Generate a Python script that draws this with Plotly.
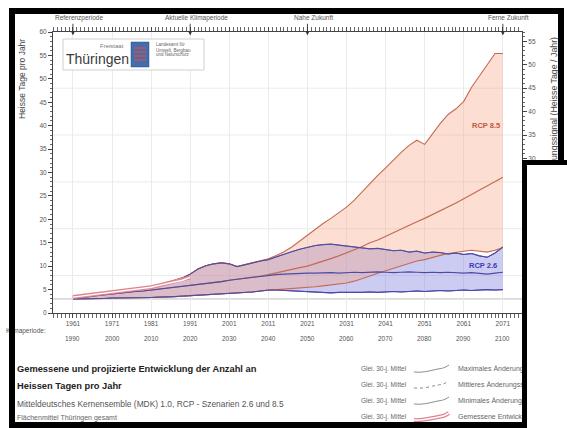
import plotly.graph_objects as go

# ---------------- data ----------------
years = list(range(1961, 2072, 2))          # start year of the 30-year period
obs_years = list(range(1961, 1992, 2))

rcp85_max = [3.4, 3.6, 3.8, 4.0, 4.3, 4.5, 4.7, 4.8, 5.1, 5.3,
             5.6, 5.9, 6.4, 6.9, 7.5, 8.3, 9.4, 10.1, 10.5, 10.7,
             10.5, 9.9, 10.3, 10.8, 11.1, 11.6, 12.3, 13.1, 14.1, 15.4,
             16.7, 17.9, 19.1, 20.2, 21.4, 22.6, 24.1, 25.9, 27.8, 29.4,
             31.0, 32.7, 34.3, 35.8, 36.9, 36.0, 38.3, 40.5, 42.4, 43.6,
             45.2, 48.2, 50.6, 53.0, 55.4, 55.4]
rcp85_mean = [3.2, 3.3, 3.5, 3.7, 3.9, 4.1, 4.3, 4.4, 4.6, 4.7,
              4.9, 5.1, 5.2, 5.4, 5.6, 5.8, 6.0, 6.2, 6.5, 6.7,
              7.0, 7.2, 7.4, 7.7, 7.9, 8.2, 8.6, 9.0, 9.3, 9.7,
              10.0, 10.5, 11.0, 11.6, 12.2, 12.8, 13.5, 14.2, 15.0, 15.6,
              16.4, 17.1, 17.9, 18.7, 19.5, 20.2, 21.0, 21.8, 22.6, 23.5,
              24.4, 25.3, 26.2, 27.1, 28.1, 29.0]
rcp85_min = [3.0, 3.0, 3.1, 3.1, 3.1, 3.2, 3.2, 3.2, 3.3, 3.3,
             3.3, 3.4, 3.4, 3.5, 3.6, 3.7, 3.7, 3.8, 3.9, 4.0,
             4.1, 4.2, 4.4, 4.5, 4.7, 4.9, 5.0, 5.1, 5.2, 5.3,
             5.4, 5.6, 5.8, 6.0, 6.2, 6.4, 6.8, 7.3, 7.9, 8.5,
             9.0, 9.6, 10.1, 10.6, 11.1, 11.4, 11.9, 12.3, 12.7, 13.0,
             13.2, 13.4, 13.2, 13.0, 13.4, 14.0]

rcp26_max = [3.4, 3.6, 3.8, 4.0, 4.3, 4.5, 4.7, 4.8, 5.1, 5.3,
             5.6, 5.9, 6.4, 6.9, 7.5, 8.3, 9.4, 10.1, 10.5, 10.7,
             10.5, 9.9, 10.3, 10.8, 11.1, 11.4, 12.0, 12.6, 13.1, 13.6,
             14.0, 14.4, 14.6, 14.7, 14.5, 14.3, 14.1, 13.9, 13.7, 13.8,
             13.5, 13.3, 13.4, 13.0, 13.2, 12.8, 13.0, 12.9, 12.6, 12.8,
             12.5, 12.7, 12.2, 11.9, 12.8, 14.1]
rcp26_mean = [3.2, 3.3, 3.5, 3.7, 3.9, 4.1, 4.3, 4.4, 4.6, 4.7,
              4.9, 5.1, 5.2, 5.4, 5.6, 5.8, 6.0, 6.2, 6.5, 6.7,
              7.0, 7.2, 7.4, 7.7, 7.9, 8.1, 8.2, 8.3, 8.4, 8.4,
              8.5, 8.5, 8.6, 8.6, 8.5, 8.6, 8.7, 8.6, 8.7, 8.8,
              8.7, 8.6, 8.7, 8.8, 8.7, 8.6, 8.7, 8.6, 8.7, 8.6,
              8.5, 8.6, 8.4, 8.3, 8.5, 8.7]
rcp26_min = [3.0, 3.0, 3.1, 3.1, 3.1, 3.2, 3.2, 3.2, 3.3, 3.3,
             3.3, 3.4, 3.4, 3.5, 3.6, 3.7, 3.7, 3.8, 3.9, 4.0,
             4.1, 4.2, 4.4, 4.5, 4.7, 4.9, 4.9, 4.8, 4.7, 4.6,
             4.5, 4.5, 4.4, 4.3, 4.4, 4.4, 4.3, 4.4, 4.5, 4.4,
             4.5, 4.6, 4.5, 4.6, 4.7, 4.6, 4.7, 4.8, 4.7, 4.8,
             4.9, 4.8, 4.9, 5.0, 4.9, 5.0]

observed = [3.4, 3.6, 3.8, 4.0, 4.3, 4.5, 4.7, 4.9, 5.1, 5.3,
            5.5, 5.9, 6.3, 6.7, 7.0, 7.6]

tick_start = [1961, 1971, 1981, 1991, 2001, 2011, 2021, 2031, 2041, 2051, 2061, 2071]
tick_end = [1990, 2000, 2010, 2020, 2030, 2040, 2050, 2060, 2070, 2080, 2090, 2100]

period_years = [1961, 1991, 2021, 2071]
period_names = ["Referenzperiode", "Aktuelle Klimaperiode", "Nahe Zukunft", "Ferne Zukunft"]

legend_prefix = ["Glei. 30-j. Mittel"] * 4
legend_names = ["Maximales Änderungssignal", "Mittleres Änderungssignal",
                "Minimales Änderungssignal", "Gemessene Entwicklung"]

title_lines = ["Gemessene und projizierte Entwicklung der Anzahl an",
               "Heissen Tagen pro Jahr"]
subtitle = "Mitteldeutsches Kernensemble (MDK) 1.0, RCP - Szenarien 2.6 und 8.5"
footnote = "Flächenmittel Thüringen gesamt"

# ---------------- styling ----------------
FONT = "Liberation Sans, Arial, sans-serif"
C85_LINE = "#c46a52"
C85_FILL = "rgba(245,160,130,0.35)"
C26_LINE = "#4b4ba6"
C26_FILL = "rgba(120,120,220,0.38)"
OBS_COL = "#dd8490"

# plot-area pixel box (used only to place decorations)
L, R, T, B = 53, 522, 32, 313
W, H = R - L, B - T


def PX(x):
    return (x - L) / W


def PY(y):
    return (B - y) / H


fig = go.Figure()

# RCP 2.6 band
fig.add_trace(go.Scatter(x=years, y=rcp26_min, mode="lines",
                         line=dict(color=C26_LINE, width=1.1), hoverinfo="skip"))
fig.add_trace(go.Scatter(x=years, y=rcp26_max, mode="lines", fill="tonexty",
                         fillcolor=C26_FILL, line=dict(color=C26_LINE, width=1.1)))
# RCP 8.5 band
fig.add_trace(go.Scatter(x=years, y=rcp85_min, mode="lines",
                         line=dict(color=C85_LINE, width=1.1)))
fig.add_trace(go.Scatter(x=years, y=rcp85_max, mode="lines", fill="tonexty",
                         fillcolor=C85_FILL, line=dict(color=C85_LINE, width=1.1)))
# means
fig.add_trace(go.Scatter(x=years, y=rcp85_mean, mode="lines",
                         line=dict(color=C85_LINE, width=1.2)))
fig.add_trace(go.Scatter(x=years, y=rcp26_mean, mode="lines",
                         line=dict(color=C26_LINE, width=1.2)))
# re-draw blue borders on top of the orange fill (early shared part looks purple)
fig.add_trace(go.Scatter(x=years, y=rcp26_max, mode="lines",
                         line=dict(color=C26_LINE, width=1.0)))
fig.add_trace(go.Scatter(x=years, y=rcp26_min, mode="lines",
                         line=dict(color=C26_LINE, width=1.0)))
# observed
fig.add_trace(go.Scatter(x=obs_years, y=observed, mode="lines",
                         line=dict(color=OBS_COL, width=4)))
fig.add_trace(go.Scatter(x=obs_years, y=observed, mode="lines",
                         line=dict(color="white", width=1.4)))
# dummy trace for right axis
fig.add_trace(go.Scatter(x=[None], y=[None], yaxis="y2", mode="lines"))

shapes = []
# horizontal grid lines (left-axis values)
for gv in [8, 18, 28, 38, 48]:
    shapes.append(dict(type="line", xref="paper", x0=0, x1=1, yref="y", y0=gv, y1=gv,
                       line=dict(color="#ebebeb", width=1), layer="below"))
shapes.append(dict(type="line", xref="paper", x0=0, x1=1, yref="y2", y0=0, y1=0,
                   line=dict(color="#bdbdbd", width=1), layer="below"))

# logo box
shapes.append(dict(type="rect", xref="paper", yref="paper", x0=PX(63), x1=PX(204),
                   y0=PY(70), y1=PY(39), fillcolor="white",
                   line=dict(color="#d0d0d0", width=1), layer="above"))
shapes.append(dict(type="rect", xref="paper", yref="paper", x0=PX(131), x1=PX(149),
                   y0=PY(67), y1=PY(42), fillcolor="#3f6fae",
                   line=dict(color="#2d4f80", width=0.5), layer="above"))
for sy in [48, 52, 56, 60]:
    shapes.append(dict(type="line", xref="paper", yref="paper", x0=PX(134), x1=PX(146),
                       y0=PY(sy), y1=PY(sy), line=dict(color="#d84a4a", width=1.5),
                       layer="above"))

# legend squiggles
leg_rows = [369, 385, 401, 417]
for i, ry in enumerate(leg_rows):
    pts = [(414, ry + 3), (424, ry + 4), (432, ry + 1), (438, ry), (444, ry - 1), (449, ry - 4)]
    path = "M {},{} C {},{} {},{} {},{} S {},{} {},{}".format(
        PX(pts[0][0]), PY(pts[0][1]), PX(pts[1][0]), PY(pts[1][1]),
        PX(pts[2][0]), PY(pts[2][1]), PX(pts[3][0]), PY(pts[3][1]),
        PX(pts[4][0]), PY(pts[4][1]), PX(pts[5][0]), PY(pts[5][1]))
    if i < 3:
        shapes.append(dict(type="path", path=path, xref="paper", yref="paper",
                           line=dict(color="#8a8a8a", width=1,
                                     dash="dot" if i == 1 else "solid"), layer="above"))
    else:
        shapes.append(dict(type="path", path=path, xref="paper", yref="paper",
                           line=dict(color=OBS_COL, width=4), layer="above"))
        shapes.append(dict(type="path", path=path, xref="paper", yref="paper",
                           line=dict(color="white", width=1.5), layer="above"))

annotations = []


def ann(xp, yp, text, size=7, color="#555", xanchor="left", bold=False, **kw):
    if bold:
        text = "<b>" + text + "</b>"
    d = dict(x=PX(xp), y=PY(yp), xref="paper", yref="paper", text=text, showarrow=False,
             xanchor=xanchor, yanchor="middle", font=dict(size=size, color=color, family=FONT))
    d.update(kw)
    annotations.append(d)


# logo texts
ann(126, 46, "Freistaat", size=6, color="#777", xanchor="right")
ann(64, 59, "Thüringen", size=14, color="#3a3a3a", xanchor="left")
ann(154, 45, "Landesamt für", size=4.5, color="#666")
ann(154, 50, "Umwelt, Bergbau", size=4.5, color="#666")
ann(154, 55, "und Naturschutz", size=4.5, color="#666")

# axis titles
ann(22, 37, "Heisse Tage pro Jahr", size=8.5, color="#444", xanchor="center",
    textangle=-90, yanchor="top")
ann(553, 35, "Änderungssignal (Heisse Tage / Jahr)", size=8.8, color="#444",
    xanchor="center", textangle=-90, yanchor="top")

# period markers on the top axis
for yr, name in zip(period_years, period_names):
    annotations.append(dict(x=yr, y=59.3, xref="x", yref="y", text="", showarrow=True,
                            ax=0, ay=-13, arrowhead=2, arrowsize=0.9, arrowwidth=0.9,
                            arrowcolor="#333"))
    annotations.append(dict(x=yr, y=PY(18), xref="x", yref="paper", text=name,
                            showarrow=False, xanchor="center", yanchor="middle", xshift=6,
                            font=dict(size=6.5, color="#555", family=FONT)))

# second row of the period labels
for ys, ye in zip(tick_start, tick_end):
    annotations.append(dict(x=ys, y=PY(338), xref="x", yref="paper", text=str(ye),
                            showarrow=False, xanchor="center", yanchor="middle",
                            font=dict(size=6.5, color="#555", family=FONT)))
ann(48, 331, "Klimaperiode:", size=6.5, color="#555", xanchor="right")

# scenario labels
annotations.append(dict(x=2066.6, y=40.1, xref="x", yref="y", text="<b>RCP 8.5</b>",
                        showarrow=False, font=dict(size=7.5, color="#c0583c", family=FONT)))
annotations.append(dict(x=2065.9, y=10.2, xref="x", yref="y", text="<b>RCP 2.6</b>",
                        showarrow=False, font=dict(size=7.5, color="#3a3ab8", family=FONT)))

# bottom texts
ann(15, 369, title_lines[0], size=9.3, color="#222", bold=True)
ann(15, 386, title_lines[1], size=9.3, color="#222", bold=True)
ann(15, 404, subtitle, size=8.4, color="#555")
ann(15, 417.5, footnote, size=7, color="#666")

# legend texts
for ry, pre, name in zip(leg_rows, legend_prefix, legend_names):
    ann(409, ry, pre, size=6.5, color="#666", xanchor="right")
    ann(456, ry, name, size=7, color="#666")


# frame / overlapping white panel drawn as the last annotations (cover what lies below)
def box(x0, y0, x1, y1, color):
    annotations.append(dict(x=PX(x0), y=PY(y0), xref="paper", yref="paper", text=" ",
                            showarrow=False, xanchor="left", yanchor="top",
                            width=x1 - x0, height=y1 - y0, bgcolor=color,
                            borderwidth=0, borderpad=0, font=dict(size=1)))


box(522, 160, 580, 440, "white")
box(522, 160, 527, 440, "black")
box(522, 160, 580, 165, "black")
box(9, 8, 564, 14, "black")
box(9, 8, 15, 440, "black")
box(558, 8, 564, 165, "black")
box(9, 422, 527, 440, "black")

fig.update_layout(
    width=567, height=428, autosize=False,
    margin=dict(l=L, r=567 - R, t=T, b=428 - B, pad=0, autoexpand=False),
    paper_bgcolor="white", plot_bgcolor="white", showlegend=False,
    font=dict(family=FONT, size=7, color="#555"),
    xaxis=dict(range=[1955.9, 2075.9], tickmode="linear", tick0=1961, dtick=10,
               ticks="outside", ticklen=4, tickcolor="#444", showline=True,
               linecolor="#444", linewidth=1, mirror="allticks", showgrid=True,
               gridcolor="#ebebeb", zeroline=False, automargin=False,
               tickfont=dict(size=6.5, color="#555"),
               minor=dict(dtick=1, tick0=1961, ticks="outside", ticklen=2,
                          tickcolor="#666", showgrid=False)),
    yaxis=dict(range=[0, 60], tickmode="linear", tick0=0, dtick=5, ticks="outside",
               ticklen=4, tickcolor="#444", showline=True, linecolor="#444",
               linewidth=1, showgrid=False, zeroline=False, automargin=False,
               tickfont=dict(size=6.5, color="#555"),
               minor=dict(dtick=1, ticks="outside", ticklen=2, tickcolor="#666")),
    yaxis2=dict(range=[-3, 57], overlaying="y", side="right", tickmode="linear",
                tick0=0, dtick=5, ticks="outside", ticklen=4, tickcolor="#444",
                showline=True, linecolor="#444", linewidth=1, showgrid=False,
                zeroline=False, automargin=False, tickfont=dict(size=6.5, color="#555"),
                minor=dict(dtick=1, ticks="outside", ticklen=2, tickcolor="#666")),
    shapes=shapes,
    annotations=annotations,
)

fig.write_html("out.html", config={"displayModeBar": False},
               post_script="document.body.style.margin='0';document.body.style.overflow='hidden';")
